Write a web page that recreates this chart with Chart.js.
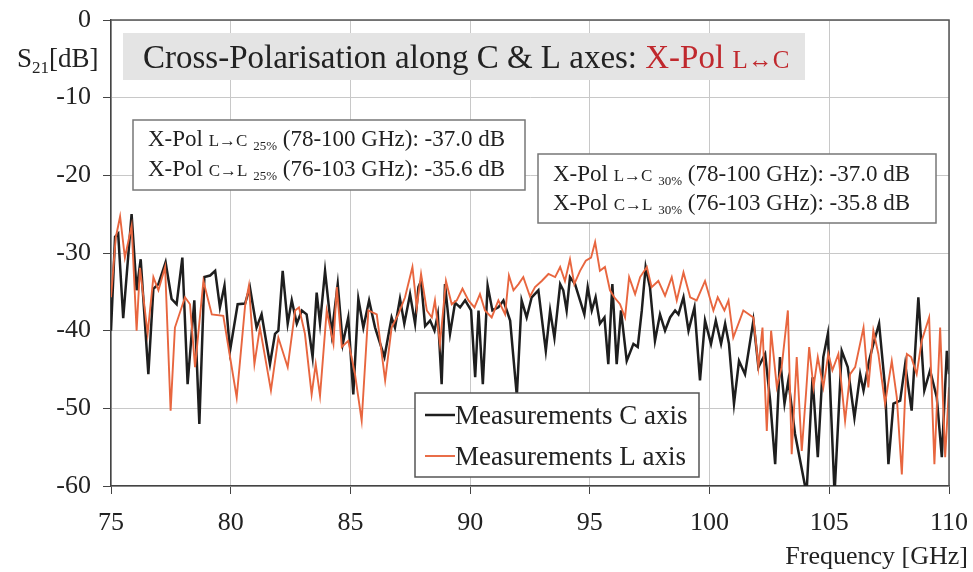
<!DOCTYPE html>
<html>
<head>
<meta charset="utf-8">
<script src="https://cdn.jsdelivr.net/npm/chart.js@4.4.1/dist/chart.umd.min.js"></script>
<style>
  body { margin: 0; background: #fff; }
  canvas { display: block; }
</style>
</head>
<body>
<canvas id="myChart" width="973" height="572"></canvas>
<script>
// tick values
const xTicks = [75, 80, 85, 90, 95, 100, 105, 110];
const yTicks = [0, -10, -20, -30, -40, -50, -60];

// C axis measurement (GHz / dB)
const freqC = [75.0, 75.17, 75.3, 75.51, 75.86, 76.07, 76.24, 76.56, 76.77, 76.98, 77.28, 77.53, 77.74, 77.98, 78.2, 78.48, 78.69, 78.9, 79.14, 79.35,
  79.55, 79.74, 79.97, 80.29, 80.6, 80.8, 81.08, 81.29, 81.64, 81.85, 81.99, 82.17, 82.38, 82.55, 82.76, 82.97, 83.17, 83.42, 83.59, 83.73,
  83.94, 84.22, 84.47, 84.68, 84.91, 85.12, 85.33, 85.54, 85.78, 86.03, 86.42, 86.72, 86.86, 87.07, 87.25, 87.49, 87.7, 87.84, 87.95, 88.12,
  88.33, 88.51, 88.65, 88.81, 88.95, 89.16, 89.37, 89.58, 89.79, 90.04, 90.21, 90.35, 90.53, 90.73, 90.93, 91.18, 91.39, 91.67, 91.95, 92.15,
  92.36, 92.57, 92.85, 93.16, 93.34, 93.52, 93.76, 93.89, 94.03, 94.17, 94.38, 94.59, 94.77, 94.91, 95.08, 95.24, 95.42, 95.61, 95.77, 95.94,
  96.12, 96.3, 96.54, 96.82, 97.0, 97.17, 97.33, 97.51, 97.72, 97.93, 98.14, 98.35, 98.56, 98.7, 98.91, 99.12, 99.37, 99.6, 99.81, 100.06,
  100.26, 100.48, 100.65, 100.81, 101.02, 101.23, 101.48, 101.83, 102.04, 102.32, 102.53, 102.74, 102.94, 103.13, 103.29, 103.57, 104.05, 104.3, 104.52, 104.75,
  104.94, 105.22, 105.52, 105.77, 106.05, 106.29, 106.43, 106.66, 106.84, 107.08, 107.33, 107.47, 107.68, 107.96, 108.17, 108.44, 108.72, 108.97, 109.21, 109.49,
  109.7, 109.91, 110.0];
const dbC = [-40.0, -27.9, -27.5, -38.4, -25.0, -34.8, -30.8, -45.6, -34.6, -34.0, -31.2, -35.9, -36.6, -30.6, -46.9, -36.1, -52.0, -33.1, -32.9, -32.3,
  -37.0, -34.2, -42.6, -36.6, -36.5, -34.4, -39.6, -37.9, -44.3, -40.4, -40.0, -32.3, -39.1, -36.1, -39.1, -37.4, -37.9, -43.4, -35.1, -39.1,
  -32.3, -40.4, -34.0, -41.7, -38.3, -48.2, -35.9, -39.6, -36.1, -39.6, -43.4, -38.3, -39.6, -35.9, -39.1, -35.3, -39.1, -34.4, -33.6, -39.4,
  -38.7, -40.0, -37.9, -46.9, -34.0, -40.4, -36.4, -37.0, -36.1, -37.4, -46.0, -37.4, -46.9, -34.2, -37.4, -37.0, -36.1, -38.7, -48.4, -36.1,
  -38.3, -35.7, -34.8, -42.6, -37.4, -40.9, -34.0, -34.8, -37.4, -33.1, -34.0, -36.1, -37.9, -34.4, -37.4, -35.7, -39.1, -38.3, -44.3, -34.0,
  -44.3, -37.4, -43.9, -41.7, -42.1, -37.4, -31.8, -34.4, -41.3, -37.9, -40.0, -38.3, -37.4, -37.9, -35.7, -40.0, -37.0, -46.4, -38.7, -41.7,
  -38.7, -41.7, -39.1, -41.7, -49.4, -43.9, -45.6, -38.7, -44.7, -43.0, -49.0, -57.2, -43.4, -49.4, -46.4, -53.3, -61.0, -46.0, -56.3, -43.4,
  -40.4, -61.0, -42.6, -44.7, -51.2, -45.6, -47.7, -43.9, -41.7, -39.1, -47.3, -57.2, -49.4, -49.0, -44.3, -50.3, -35.7, -47.7, -45.1, -48.6,
  -56.3, -42.6, -45.6];

// L axis measurement (GHz / dB)
const freqL = [75.0, 75.2, 75.38, 75.58, 75.86, 76.07, 76.21, 76.53, 76.77, 76.98, 77.26, 77.49, 77.67, 78.09, 78.3, 78.51, 78.86, 79.21, 79.69, 80.25,
  80.6, 80.76, 80.99, 81.22, 81.68, 81.99, 82.38, 82.69, 82.85, 83.1, 83.38, 83.55, 83.73, 84.01, 84.29, 84.43, 84.64, 84.91, 85.19, 85.47,
  85.75, 86.1, 86.45, 86.72, 87.0, 87.28, 87.59, 87.77, 87.95, 88.19, 88.4, 88.53, 88.74, 88.99, 89.23, 89.44, 89.68, 89.93, 90.18, 90.41,
  90.62, 90.9, 91.18, 91.46, 91.62, 91.81, 92.02, 92.22, 92.5, 92.71, 92.99, 93.27, 93.55, 93.76, 93.96, 94.17, 94.35, 94.59, 94.83, 95.05,
  95.22, 95.42, 95.63, 95.84, 96.02, 96.26, 96.47, 96.64, 96.89, 97.1, 97.38, 97.58, 97.86, 98.14, 98.42, 98.63, 98.91, 99.19, 99.46, 99.81,
  100.16, 100.34, 100.62, 100.79, 100.99, 101.41, 101.83, 102.04, 102.21, 102.39, 102.57, 102.81, 103.01, 103.27, 103.43, 103.64, 103.85, 104.03, 104.16, 104.34,
  104.52, 104.75, 104.96, 105.13, 105.38, 105.66, 105.87, 106.08, 106.43, 106.63, 106.84, 107.05, 107.33, 107.61, 107.82, 108.03, 108.24, 108.42, 108.65, 108.86,
  109.17, 109.39, 109.63, 109.84, 110.0];
const dbL = [-35.7, -28.0, -25.3, -30.6, -26.5, -40.0, -31.9, -40.4, -33.1, -34.8, -31.8, -50.3, -39.6, -35.7, -36.6, -44.7, -33.6, -37.9, -38.1, -48.6,
  -36.8, -34.2, -44.3, -39.6, -47.7, -40.9, -44.7, -37.4, -37.0, -40.4, -48.2, -44.3, -48.4, -37.4, -41.7, -34.4, -42.1, -41.3, -45.6, -51.6,
  -37.4, -37.9, -46.4, -39.6, -37.9, -35.7, -31.8, -37.0, -32.7, -37.4, -38.3, -36.1, -41.7, -33.6, -36.6, -36.1, -34.6, -36.1, -37.0, -35.3,
  -37.4, -38.3, -36.1, -37.9, -32.9, -34.8, -34.0, -33.1, -35.6, -34.4, -33.6, -32.7, -33.1, -31.8, -33.6, -30.8, -34.0, -32.3, -31.0, -30.6,
  -28.6, -32.3, -31.8, -34.8, -35.7, -36.6, -38.3, -33.1, -35.3, -33.1, -31.8, -34.4, -33.6, -35.5, -33.1, -36.1, -32.5, -35.7, -36.1, -33.6,
  -37.4, -35.7, -37.4, -36.1, -40.9, -37.4, -38.3, -44.7, -39.6, -52.9, -40.0, -47.3, -44.7, -37.4, -55.9, -43.4, -55.5, -48.0, -42.1, -47.3,
  -43.4, -47.3, -43.0, -45.1, -43.0, -51.6, -45.6, -44.7, -39.6, -47.3, -40.0, -43.0, -49.4, -43.9, -48.6, -58.5, -43.0, -43.4, -45.6, -41.3,
  -38.3, -57.2, -39.6, -56.3, -47.3];

const SERIF = '"Liberation Serif", "Times New Roman", serif';
const TEXT = '#222';
const RED = '#c0282d';

// draws a row of text pieces with their own size/colour/offset, left to right
function drawRuns(ctx, x, y, runs) {
    let cx = x;
    runs.forEach((r) => {
        ctx.font = r.size + 'px ' + SERIF;
        ctx.fillStyle = r.color || TEXT;
        ctx.fillText(r.text, cx, y + (r.dy || 0));
        cx += ctx.measureText(r.text).width;
    });
    return cx;
}

function statLine(dir, pct, range) {
    return [
        { text: 'X-Pol ', size: 23 },
        { text: dir, size: 17 },
        { text: ' ', size: 23 },
        { text: pct, size: 13, dy: 4 },
        { text: ' ' + range, size: 23 }
    ];
}

const overlay = {
    id: 'overlay',
    afterDraw(chart) {
        const ctx = chart.ctx;
        const area = chart.chartArea;
        ctx.save();
        ctx.textBaseline = 'alphabetic';
        ctx.textAlign = 'left';

        // frame top/right
        ctx.strokeStyle = '#555';
        ctx.lineWidth = 1.5;
        ctx.beginPath();
        ctx.moveTo(area.left, area.top);
        ctx.lineTo(area.right, area.top);
        ctx.lineTo(area.right, area.bottom);
        ctx.stroke();

        // heading strip
        ctx.fillStyle = '#e4e4e4';
        ctx.fillRect(123, 33, 682, 47);
        drawRuns(ctx, 143, 68, [
            { text: 'Cross-Polarisation along C & L axes: ', size: 33 },
            { text: 'X-Pol ', size: 33, color: RED },
            { text: 'L\u2194C', size: 25, color: RED }
        ]);

        // stats boxes
        ctx.fillStyle = '#fff';
        ctx.strokeStyle = '#777';
        ctx.lineWidth = 1.5;
        ctx.fillRect(133, 120, 392, 70);
        ctx.strokeRect(133, 120, 392, 70);
        drawRuns(ctx, 148, 146, statLine('L\u2192C', '25%', '(78-100 GHz): -37.0 dB'));
        drawRuns(ctx, 148, 176, statLine('C\u2192L', '25%', '(76-103 GHz): -35.6 dB'));

        ctx.fillStyle = '#fff';
        ctx.fillRect(538, 154, 398, 69);
        ctx.strokeRect(538, 154, 398, 69);
        drawRuns(ctx, 553, 181, statLine('L\u2192C', '30%', '(78-100 GHz): -37.0 dB'));
        drawRuns(ctx, 553, 210, statLine('C\u2192L', '30%', '(76-103 GHz): -35.8 dB'));

        // legend
        ctx.fillStyle = '#fff';
        ctx.strokeStyle = '#555';
        ctx.fillRect(415, 393, 284, 84);
        ctx.strokeRect(415, 393, 284, 84);
        chart.data.datasets.forEach((ds, i) => {
            const ly = 415 + i * 41;
            ctx.strokeStyle = ds.borderColor;
            ctx.lineWidth = ds.borderWidth;
            ctx.beginPath();
            ctx.moveTo(425, ly);
            ctx.lineTo(455, ly);
            ctx.stroke();
            drawRuns(ctx, 455, ly + 9, [{ text: ds.label, size: 27 }]);
        });

        // axis titles
        drawRuns(ctx, 17, 67, [
            { text: 'S', size: 27 },
            { text: '21', size: 17, dy: 6 },
            { text: '[dB]', size: 27 }
        ]);
        ctx.font = '26px ' + SERIF;
        ctx.fillStyle = TEXT;
        ctx.textAlign = 'right';
        ctx.fillText('Frequency [GHz]', 968, 564);
        ctx.restore();
    }
};

// keep the plot box fixed: drop the extra room Chart.js reserves for edge labels
function fixX(s) {
    s.height = 86;
    s.paddingLeft = 0;
    s.paddingRight = 0;
}
function fixY(s) {
    s.width = 111;
    s.paddingTop = 0;
    s.paddingBottom = 0;
}

const ctx = document.getElementById('myChart').getContext('2d');
const chart = new Chart(ctx, {
    type: 'line',
    data: {
        datasets: [{
            label: 'Measurements C axis',
            data: freqC.map((f, i) => ({ x: f, y: dbC[i] })),
            borderColor: '#1e1e1e',
            borderWidth: 2.5,
            pointRadius: 0,
            tension: 0,
            order: 2
        }, {
            label: 'Measurements L axis',
            data: freqL.map((f, i) => ({ x: f, y: dbL[i] })),
            borderColor: '#e8663f',
            borderWidth: 1.9,
            pointRadius: 0,
            tension: 0,
            order: 1
        }]
    },
    options: {
        responsive: false,
        animation: false,
        layout: { padding: { top: 20, right: 24, left: 0, bottom: 0 } },
        plugins: { legend: { display: false }, tooltip: { enabled: false } },
        scales: {
            x: {
                type: 'linear',
                min: 75,
                max: 110,
                afterBuildTicks: (s) => { s.ticks = xTicks.map((v) => ({ value: v })); },
                afterFit: fixX,
                grid: { color: '#c8c8c8', tickColor: '#444', tickLength: 8 },
                border: { color: '#444', width: 1.5 },
                ticks: { font: { family: SERIF, size: 26 }, color: TEXT, padding: 14, maxRotation: 0 }
            },
            y: {
                type: 'linear',
                min: -60,
                max: 0,
                afterBuildTicks: (s) => { s.ticks = yTicks.map((v) => ({ value: v })); },
                afterFit: fixY,
                grid: { color: '#c8c8c8', tickColor: '#444', tickLength: 8 },
                border: { color: '#444', width: 1.5 },
                ticks: { font: { family: SERIF, size: 26 }, color: TEXT, padding: 12 }
            }
        }
    },
    plugins: [overlay]
});
</script>
</body>
</html>
